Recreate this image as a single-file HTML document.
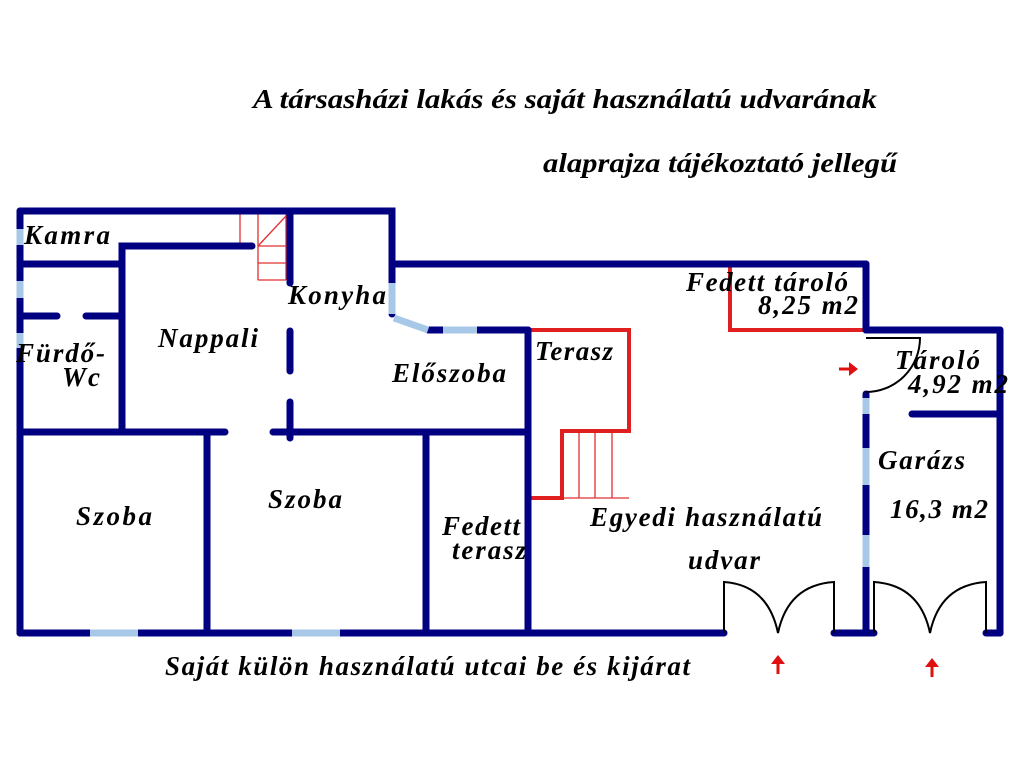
<!DOCTYPE html>
<html><head><meta charset="utf-8"><style>
html,body{margin:0;padding:0;background:#fff;width:1024px;height:768px;overflow:hidden}
svg text{font-family:"Liberation Serif",serif;font-weight:bold;font-style:italic;fill:#000}
</style></head><body>
<svg width="1024" height="768" viewBox="0 0 1024 768" xmlns="http://www.w3.org/2000/svg">
<g font-size="27">
<text x="253" y="108" textLength="624" lengthAdjust="spacingAndGlyphs">A társasházi lakás és saját használatú udvarának</text>
<text x="543" y="172" textLength="354" lengthAdjust="spacingAndGlyphs">alaprajza tájékoztató jellegű</text>
</g>
<g stroke="#e03030" stroke-width="1.3" fill="none">
<line x1="240" y1="214" x2="240" y2="246"/><line x1="258" y1="214" x2="258" y2="280"/>
<line x1="286" y1="214" x2="286" y2="280"/>
<line x1="258" y1="246" x2="286" y2="246"/><line x1="258" y1="263" x2="286" y2="263"/><line x1="258" y1="280" x2="286" y2="280"/>
<line x1="258" y1="246" x2="286" y2="216"/>
<line x1="579" y1="431" x2="579" y2="498"/><line x1="595" y1="431" x2="595" y2="498"/><line x1="612" y1="431" x2="612" y2="498"/>
<line x1="562" y1="498" x2="629" y2="498"/>
</g>
<g stroke="#e02020" stroke-width="4" fill="none">
<polyline points="528,330 629,330 629,431 562,431 562,498 528,498"/>
<polyline points="730,264 730,330 866,330"/>
</g>
<g stroke="#000080" stroke-width="7" fill="none" stroke-linecap="round">
<polyline points="20,211 392,211 392,314"/>
<line x1="20" y1="211" x2="20" y2="633"/>
<line x1="20" y1="264" x2="122" y2="264"/>
<polyline points="122,432 122,246 252,246"/>
<line x1="290" y1="211" x2="290" y2="283"/>
<line x1="290" y1="331" x2="290" y2="371"/><line x1="290" y1="402" x2="290" y2="438"/>
<line x1="392" y1="264" x2="866" y2="264"/>
<line x1="428" y1="330" x2="528" y2="330"/>
<line x1="528" y1="330" x2="528" y2="633"/>
<line x1="20" y1="316" x2="57" y2="316"/><line x1="86" y1="316" x2="122" y2="316"/>
<line x1="20" y1="432" x2="225" y2="432"/><line x1="273" y1="432" x2="528" y2="432"/>
<line x1="207" y1="432" x2="207" y2="633"/><line x1="426" y1="432" x2="426" y2="633"/>
<line x1="20" y1="633" x2="724" y2="633"/>
<line x1="834" y1="633" x2="874" y2="633"/>
<line x1="986" y1="633" x2="1000" y2="633"/>
<line x1="866" y1="264" x2="866" y2="330"/>
<line x1="866" y1="330" x2="1000" y2="330"/>
<line x1="1000" y1="330" x2="1000" y2="633"/>
<line x1="912" y1="414" x2="1000" y2="414"/>
<line x1="866" y1="394" x2="866" y2="633"/>
</g>
<g stroke="#a8c8e8" stroke-width="7" fill="none">
<line x1="20" y1="229" x2="20" y2="245"/><line x1="20" y1="281" x2="20" y2="298"/><line x1="20" y1="333" x2="20" y2="348"/>
<line x1="392" y1="283" x2="392" y2="314"/>
<line x1="394" y1="318" x2="428" y2="330"/>
<line x1="443" y1="330" x2="477" y2="330"/>
<line x1="90" y1="633" x2="138" y2="633"/><line x1="292" y1="633" x2="340" y2="633"/>
<line x1="866" y1="398" x2="866" y2="414"/><line x1="866" y1="448" x2="866" y2="485"/><line x1="866" y1="535" x2="866" y2="567"/>
</g>
<g stroke="#000" stroke-width="2" fill="none">
<path d="M866,338 L920,338 A54,54 0 0 1 866,392"/>
<path d="M724,633 L724,582 Q768,585 778,633 Q788,585 834,582 L834,633"/>
<path d="M874,633 L874,582 Q920,585 930,633 Q940,585 986,582 L986,633"/>
</g>
<g fill="#e01010" stroke="#e01010" stroke-width="3">
<line x1="778" y1="674" x2="778" y2="662"/><polygon points="771,664 785,664 778,655" stroke="none"/>
<line x1="932" y1="677" x2="932" y2="665"/><polygon points="925,667 939,667 932,658" stroke="none"/>
<line x1="839" y1="369" x2="851" y2="369"/><polygon points="849,362 849,376 858,369" stroke="none"/>
</g>
<g font-size="27" lengthAdjust="spacingAndGlyphs">
<text x="24" y="244" textLength="86">Kamra</text>
<text x="288" y="304" textLength="98">Konyha</text>
<text x="158" y="347" textLength="100">Nappali</text>
<text x="16" y="362" textLength="89">Fürdő-</text>
<text x="62" y="386" textLength="38">Wc</text>
<text x="392" y="382" textLength="114">Előszoba</text>
<text x="535" y="360" textLength="78">Terasz</text>
<text x="686" y="291" textLength="162">Fedett tároló</text>
<text x="758" y="314" textLength="100">8,25 m2</text>
<text x="895" y="369" textLength="85">Tároló</text>
<text x="908" y="393" textLength="100">4,92 m2</text>
<text x="878" y="469" textLength="87">Garázs</text>
<text x="890" y="518" textLength="98">16,3 m2</text>
<text x="76" y="525" textLength="76">Szoba</text>
<text x="268" y="508" textLength="74">Szoba</text>
<text x="442" y="535" textLength="78">Fedett</text>
<text x="452" y="559" textLength="74">terasz</text>
<text x="590" y="526" textLength="232">Egyedi használatú</text>
<text x="688" y="569" textLength="72">udvar</text>
<text x="165" y="675" textLength="525">Saját külön használatú utcai be és kijárat</text>
</g>
</svg>
</body></html>
